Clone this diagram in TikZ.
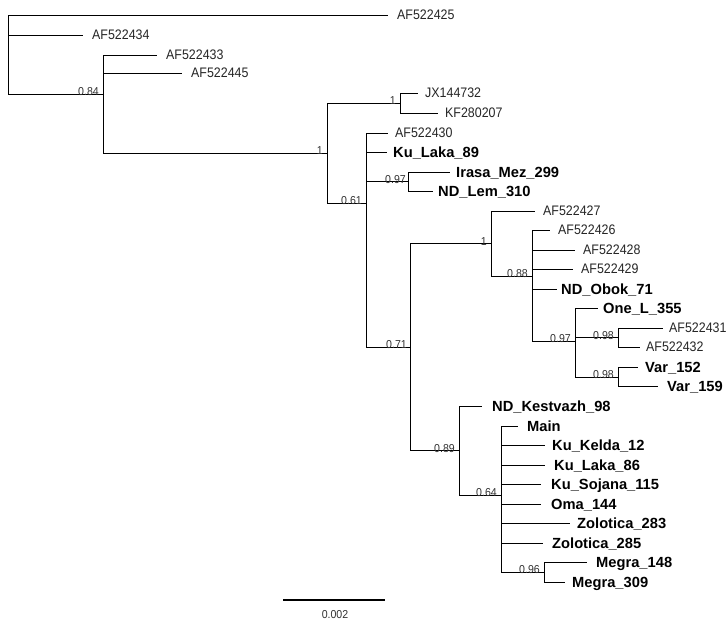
\documentclass[tikz,border=0pt]{standalone}
\usepackage{fontspec}
\setmainfont{Liberation Sans}
\newfontfamily\leaffont[FakeStretch=0.9]{Liberation Sans}
\newfontfamily\suppfont[FakeStretch=0.92]{Liberation Sans}
\begin{document}
\begin{tikzpicture}[x=1pt,y=-1pt,
  br/.style={draw=black, line width=0.8pt},
  leafn/.style={anchor=base west, inner sep=0pt, yshift=-4.9pt, font=\leaffont\fontsize{13.8}{14}\selectfont, text=black!85},
  leafb/.style={anchor=base west, inner sep=0pt, yshift=-5.3pt, font=\fontsize{14.7}{15}\selectfont\bfseries, text=black},
  supp/.style={anchor=south east, inner sep=0pt, font=\suppfont\fontsize{11.5}{12}\selectfont, text=black!80},
  scl/.style={anchor=north, inner sep=0pt, font=\suppfont\fontsize{11.5}{12}\selectfont, text=black!80}]
\useasboundingbox[fill=white] (0,0) rectangle (726,620);

% internal nodes
\coordinate (r) at (8,48);
\coordinate (n084) at (103,94);
\coordinate (n1a) at (327,153);
\coordinate (nJX) at (400,103);
\coordinate (n061) at (366,203);
\coordinate (n097a) at (408,181.5);
\coordinate (n071) at (410,347);
\coordinate (n1b) at (491,243.5);
\coordinate (n088) at (532,276);
\coordinate (n097b) at (575,341);
\coordinate (n098a) at (618,337.5);
\coordinate (n098b) at (618,377);
\coordinate (n089) at (459,450.5);
\coordinate (n064) at (501,495);
\coordinate (n096) at (544,572);

% leaf tips
\coordinate (t1) at (388,15);
\coordinate (t2) at (83,35);
\coordinate (t3) at (157,55);
\coordinate (t4) at (182,73);
\coordinate (t5) at (418,93);
\coordinate (t6) at (438,113);
\coordinate (t7) at (388,133);
\coordinate (t8) at (387,152);
\coordinate (t9) at (450,172);
\coordinate (t10) at (433,191);
\coordinate (t11) at (535,211);
\coordinate (t12) at (550,230);
\coordinate (t13) at (575,250);
\coordinate (t14) at (573,269);
\coordinate (t15) at (557,289);
\coordinate (t16) at (598,308);
\coordinate (t17) at (663,328);
\coordinate (t18) at (640,347);
\coordinate (t19) at (638,367);
\coordinate (t20) at (658,386);
\coordinate (t21) at (482,406);
\coordinate (t22) at (518,426);
\coordinate (t23) at (545,445);
\coordinate (t24) at (545,465);
\coordinate (t25) at (541,484);
\coordinate (t26) at (541,504);
\coordinate (t27) at (570,523);
\coordinate (t28) at (543,543);
\coordinate (t29) at (587,562);
\coordinate (t30) at (565,582);

% branches
\draw[br] (r) |- (t1);
\draw[br] (r) |- (t2);
\draw[br] (r) |- (n084);
\draw[br] (n084) |- (t3);
\draw[br] (n084) |- (t4);
\draw[br] (n084) |- (n1a);
\draw[br] (n1a) |- (nJX);
\draw[br] (n1a) |- (n061);
\draw[br] (nJX) |- (t5);
\draw[br] (nJX) |- (t6);
\draw[br] (n061) |- (t7);
\draw[br] (n061) |- (t8);
\draw[br] (n061) |- (n097a);
\draw[br] (n061) |- (n071);
\draw[br] (n097a) |- (t9);
\draw[br] (n097a) |- (t10);
\draw[br] (n071) |- (n1b);
\draw[br] (n071) |- (n089);
\draw[br] (n1b) |- (t11);
\draw[br] (n1b) |- (n088);
\draw[br] (n088) |- (t12);
\draw[br] (n088) |- (t13);
\draw[br] (n088) |- (t14);
\draw[br] (n088) |- (t15);
\draw[br] (n088) |- (n097b);
\draw[br] (n097b) |- (t16);
\draw[br] (n097b) |- (n098a);
\draw[br] (n097b) |- (n098b);
\draw[br] (n098a) |- (t17);
\draw[br] (n098a) |- (t18);
\draw[br] (n098b) |- (t19);
\draw[br] (n098b) |- (t20);
\draw[br] (n089) |- (t21);
\draw[br] (n089) |- (n064);
\draw[br] (n064) |- (t22);
\draw[br] (n064) |- (t23);
\draw[br] (n064) |- (t24);
\draw[br] (n064) |- (t25);
\draw[br] (n064) |- (t26);
\draw[br] (n064) |- (t27);
\draw[br] (n064) |- (t28);
\draw[br] (n064) |- (n096);
\draw[br] (n096) |- (t29);
\draw[br] (n096) |- (t30);

% leaf labels
\node[leafn] (L1) at ([xshift=9]t1) {AF522425};
\node[leafn] (L2) at ([xshift=9]t2) {AF522434};
\node[leafn] (L3) at ([xshift=9]t3) {AF522433};
\node[leafn] (L4) at ([xshift=9]t4) {AF522445};
\node[leafn] (L5) at ([xshift=7]t5) {JX144732};
\node[leafn] (L6) at ([xshift=7]t6) {KF280207};
\node[leafn] (L7) at ([xshift=7]t7) {AF522430};
\node[leafb] (L8) at ([xshift=6]t8) {Ku\_Laka\_89};
\node[leafb] (L9) at ([xshift=6]t9) {Irasa\_Mez\_299};
\node[leafb] (L10) at ([xshift=5]t10) {ND\_Lem\_310};
\node[leafn] (L11) at ([xshift=8]t11) {AF522427};
\node[leafn] (L12) at ([xshift=8]t12) {AF522426};
\node[leafn] (L13) at ([xshift=8]t13) {AF522428};
\node[leafn] (L14) at ([xshift=8]t14) {AF522429};
\node[leafb] (L15) at ([xshift=4]t15) {ND\_Obok\_71};
\node[leafb] (L16) at ([xshift=5]t16) {One\_L\_355};
\node[leafn] (L17) at ([xshift=6]t17) {AF522431};
\node[leafn] (L18) at ([xshift=6]t18) {AF522432};
\node[leafb] (L19) at ([xshift=7]t19) {Var\_152};
\node[leafb] (L20) at ([xshift=9]t20) {Var\_159};
\node[leafb] (L21) at ([xshift=10]t21) {ND\_Kestvazh\_98};
\node[leafb] (L22) at ([xshift=9]t22) {Main};
\node[leafb] (L23) at ([xshift=7]t23) {Ku\_Kelda\_12};
\node[leafb] (L24) at ([xshift=9]t24) {Ku\_Laka\_86};
\node[leafb] (L25) at ([xshift=10]t25) {Ku\_Sojana\_115};
\node[leafb] (L26) at ([xshift=10]t26) {Oma\_144};
\node[leafb] (L27) at ([xshift=7]t27) {Zolotica\_283};
\node[leafb] (L28) at ([xshift=9]t28) {Zolotica\_285};
\node[leafb] (L29) at ([xshift=9]t29) {Megra\_148};
\node[leafb] (L30) at ([xshift=7]t30) {Megra\_309};

% support values
\node[supp] (s084) at ([xshift=-4,yshift=-2]n084) {0.84};
\node[supp] (s1a) at ([xshift=-4,yshift=-2]n1a) {1};
\node[supp] (sJX) at ([xshift=-4,yshift=-2]nJX) {1};
\node[supp] (s061) at ([xshift=-4,yshift=-2]n061) {0.61};
\node[supp] (s097a) at ([xshift=-2,yshift=-2]n097a) {0.97};
\node[supp] (s071) at ([xshift=-3,yshift=-2]n071) {0.71};
\node[supp] (s1b) at ([xshift=-4,yshift=-2]n1b) {1};
\node[supp] (s088) at ([xshift=-4,yshift=-2]n088) {0.88};
\node[supp] (s097b) at ([xshift=-4,yshift=-2]n097b) {0.97};
\node[supp] (s098a) at ([xshift=-4,yshift=-2]n098a) {0.98};
\node[supp] (s098b) at ([xshift=-4,yshift=-2]n098b) {0.98};
\node[supp] (s089) at ([xshift=-4,yshift=-2]n089) {0.89};
\node[supp] (s064) at ([xshift=-4,yshift=-2]n064) {0.64};
\node[supp] (s096) at ([xshift=-4,yshift=-2]n096) {0.96};

% scale bar
\coordinate (sbL) at (283,600);
\coordinate (sbR) at (385,600);
\draw[line width=2.6pt] (sbL) -- (sbR);
\node[scl] (sbT) at (335,610) {0.002};
\end{tikzpicture}
\end{document}
